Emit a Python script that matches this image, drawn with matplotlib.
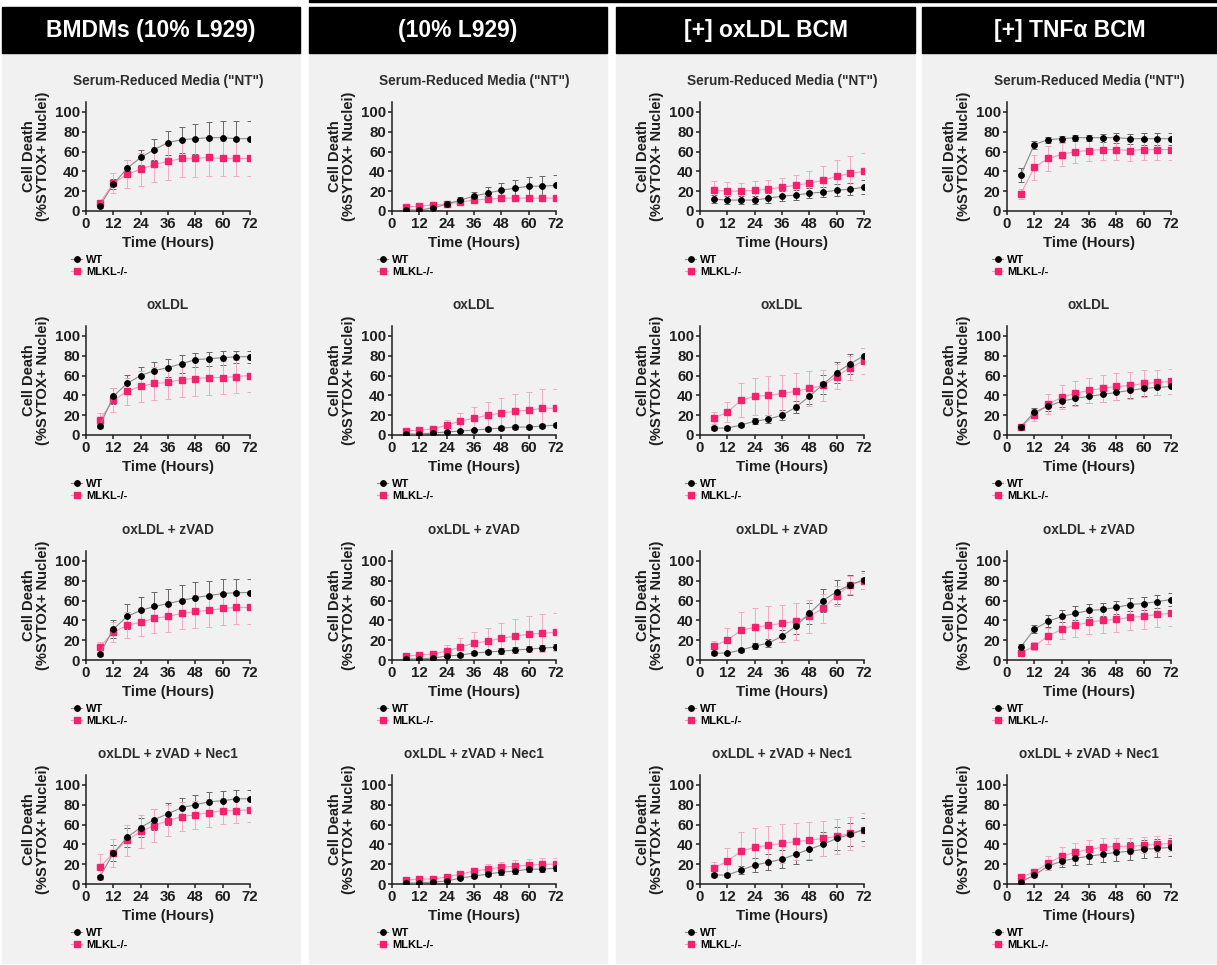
import matplotlib
matplotlib.use("Agg")
import matplotlib.pyplot as plt
from matplotlib.patches import Rectangle

plt.rcParams["font.family"] = ["Liberation Sans", "DejaVu Sans"]
plt.rcParams["font.weight"] = "bold"

# ── data ──────────────────────────────────────────────────────────────────────
hours = [6, 12, 18, 24, 30, 36, 42, 48, 54, 60, 66, 72]
column_titles = ["BMDMs (10% L929)", "(10% L929)", "[+] oxLDL BCM", "[+] TNF\u03b1 BCM"]
treatments = ['Serum-Reduced Media ("NT")', "oxLDL", "oxLDL + zVAD", "oxLDL + zVAD + Nec1"]
genotypes = ["WT", "MLKL-/-"]

# BMDMs (10% L929)
bmdm_wt = [
    [5, 27, 43, 54, 62, 69, 72, 73, 74, 74, 73, 73],
    [9, 39, 52, 60, 65, 68, 72, 76, 77, 78, 79, 79],
    [6, 31, 44, 50, 54, 57, 60, 63, 65, 67, 68, 68],
    [7, 31, 47, 57, 65, 71, 77, 80, 83, 84, 86, 86],
]
bmdm_wt_sd = [
    [2, 5, 8, 8, 11, 12, 13, 15, 16, 17, 18, 18],
    [2, 8, 9, 9, 9, 9, 9, 7, 7, 7, 6, 6],
    [2, 9, 13, 14, 15, 15, 16, 16, 15, 15, 14, 14],
    [2, 8, 10, 10, 11, 11, 10, 10, 10, 10, 9, 9],
]
bmdm_ko = [
    [8, 28, 37, 42, 47, 50, 53, 53, 54, 53, 53, 53],
    [15, 35, 44, 49, 52, 53, 56, 57, 58, 58, 59, 60],
    [13, 28, 35, 38, 42, 44, 47, 49, 50, 52, 53, 53],
    [17, 31, 44, 53, 59, 64, 68, 70, 72, 74, 74, 75],
]
bmdm_ko_sd = [
    [3, 10, 14, 17, 18, 19, 19, 19, 19, 18, 18, 18],
    [7, 12, 14, 16, 17, 17, 18, 18, 18, 17, 17, 17],
    [5, 10, 13, 14, 15, 16, 16, 17, 17, 17, 17, 17],
    [13, 14, 16, 17, 17, 16, 15, 14, 14, 13, 12, 12],
]

# (10% L929)
l929_wt = [
    [1, 1, 3, 7, 11, 15, 18, 21, 23, 25, 25, 26],
    [1, 1, 2, 3, 4, 5, 6, 7, 8, 8, 9, 10],
    [1, 1, 2, 4, 5, 7, 8, 9, 10, 11, 12, 13],
    [1, 1, 2, 3, 6, 8, 10, 12, 13, 15, 15, 16],
]
l929_wt_sd = [
    [1, 1, 1, 2, 3, 4, 6, 7, 8, 9, 10, 10],
    [1, 1, 1, 1, 1, 1, 2, 2, 2, 2, 2, 2],
    [1, 1, 1, 1, 2, 2, 2, 3, 3, 3, 3, 3],
    [1, 1, 1, 1, 1, 2, 2, 3, 3, 3, 3, 3],
]
l929_ko = [
    [4, 5, 6, 7, 9, 11, 12, 13, 13, 13, 13, 13],
    [4, 5, 6, 10, 14, 17, 20, 22, 24, 25, 27, 27],
    [4, 5, 6, 9, 13, 17, 19, 22, 24, 26, 27, 28],
    [4, 5, 5, 7, 10, 13, 15, 17, 18, 19, 20, 20],
]
l929_ko_sd = [
    [1, 1, 1, 1, 1, 1, 1, 1, 1, 2, 2, 2],
    [1, 1, 3, 5, 8, 11, 13, 15, 17, 18, 19, 19],
    [1, 1, 3, 6, 9, 11, 13, 15, 17, 18, 19, 19],
    [1, 1, 1, 1, 2, 3, 5, 5, 6, 6, 6, 6],
]

# [+] oxLDL BCM
oxbcm_wt = [
    [12, 11, 11, 11, 13, 15, 16, 18, 19, 21, 22, 24],
    [7, 7, 10, 14, 16, 20, 28, 39, 51, 63, 72, 80],
    [7, 7, 10, 14, 17, 24, 34, 47, 60, 69, 76, 81],
    [9, 9, 14, 19, 22, 25, 30, 35, 40, 46, 50, 55],
]
oxbcm_wt_sd = [
    [4, 4, 4, 4, 5, 5, 5, 5, 5, 6, 6, 7],
    [2, 2, 2, 3, 4, 5, 6, 8, 10, 11, 10, 8],
    [2, 1, 2, 3, 4, 6, 8, 11, 12, 12, 10, 9],
    [2, 2, 4, 7, 8, 9, 10, 11, 12, 12, 12, 12],
]
oxbcm_ko = [
    [21, 20, 20, 21, 22, 24, 26, 28, 31, 35, 38, 40],
    [17, 23, 35, 39, 40, 42, 44, 47, 50, 59, 68, 75],
    [14, 20, 30, 33, 35, 37, 39, 44, 52, 65, 76, 80],
    [16, 23, 33, 37, 39, 41, 43, 44, 46, 48, 51, 55],
]
oxbcm_ko_sd = [
    [9, 9, 8, 9, 9, 9, 10, 12, 14, 16, 18, 19],
    [6, 10, 17, 19, 20, 19, 19, 18, 16, 13, 12, 13],
    [5, 12, 18, 19, 19, 19, 19, 17, 15, 10, 9, 8],
    [6, 13, 19, 20, 20, 20, 19, 19, 18, 18, 17, 17],
]

# [+] TNFa BCM
tnfbcm_wt = [
    [36, 67, 72, 73, 74, 74, 74, 74, 73, 73, 73, 73],
    [8, 23, 29, 34, 37, 39, 41, 43, 45, 47, 48, 49],
    [13, 31, 39, 44, 47, 50, 51, 53, 56, 57, 59, 61],
    [2, 9, 18, 23, 26, 28, 30, 32, 33, 35, 36, 37],
]
tnfbcm_wt_sd = [
    [7, 4, 3, 3, 3, 3, 4, 5, 5, 6, 6, 6],
    [1, 4, 5, 6, 7, 7, 8, 8, 8, 8, 8, 8],
    [3, 4, 6, 6, 7, 7, 7, 7, 7, 7, 7, 7],
    [2, 2, 4, 6, 7, 8, 8, 9, 9, 9, 9, 9],
]
tnfbcm_ko = [
    [17, 44, 53, 57, 60, 61, 62, 62, 61, 62, 62, 62],
    [8, 20, 31, 38, 42, 45, 47, 49, 50, 52, 53, 54],
    [7, 14, 24, 31, 35, 38, 40, 41, 43, 44, 46, 47],
    [7, 12, 21, 28, 32, 35, 37, 38, 38, 39, 40, 41],
]
tnfbcm_ko_sd = [
    [5, 13, 13, 12, 12, 11, 11, 11, 11, 11, 11, 11],
    [2, 6, 10, 12, 13, 13, 14, 14, 14, 14, 13, 13],
    [2, 4, 8, 10, 12, 12, 13, 13, 13, 13, 13, 13],
    [2, 2, 7, 9, 9, 9, 9, 8, 8, 8, 8, 8],
]

wt_means = [bmdm_wt, l929_wt, oxbcm_wt, tnfbcm_wt]
wt_sds = [bmdm_wt_sd, l929_wt_sd, oxbcm_wt_sd, tnfbcm_wt_sd]
ko_means = [bmdm_ko, l929_ko, oxbcm_ko, tnfbcm_ko]
ko_sds = [bmdm_ko_sd, l929_ko_sd, oxbcm_ko_sd, tnfbcm_ko_sd]

# ── layout (pixel based) ─────────────────────────────────────────────────────
W, H = 1217, 965
PANEL_X = [(2, 300), (309, 607), (616, 915), (922, 1217)]
HEADER_TOP, HEADER_BOT, PANEL_BOT = 7, 53, 963
AX_LEFT = [86, 392, 700, 1007]
AX_ZERO = [211, 435, 660, 884]
AX_W, AX_H = 164, 109

PINK = "#f5206e"
PINK_LIGHT = "#f59bbb"
PINK_ERR = "#f4a9c4"
GREY_LINE = "#8a8a8a"
GREY_ERR = "#666666"
PANEL_BG = "#f1f1f1"
AX_COL = "#1e1e1e"


def px_rect(x0, y0, x1, y1, **kw):
    return Rectangle((x0 / W, 1 - y1 / H), (x1 - x0) / W, (y1 - y0) / H,
                     transform=fig.transFigure, zorder=-10, **kw)


fig = plt.figure(figsize=(W / 100, H / 100), dpi=100, facecolor="white")

# thin rule across the top of columns 2-4
fig.patches.append(px_rect(309, 0, W, 2, color="black"))

for c, (x0, x1) in enumerate(PANEL_X):
    fig.patches.append(px_rect(x0, HEADER_BOT, x1, PANEL_BOT, color=PANEL_BG))
    fig.patches.append(px_rect(x0, HEADER_TOP, x1, HEADER_BOT, color="black"))
    fig.text((x0 + x1) / 2 / W, 1 - (HEADER_TOP + HEADER_BOT) / 2 / H, column_titles[c],
             color="white", fontsize=16.5, fontweight="bold", ha="center", va="center")

    for r in range(4):
        ax = fig.add_axes([AX_LEFT[c] / W, 1 - AX_ZERO[r] / H, AX_W / W, AX_H / H])
        ax.set_facecolor("none")

        ax.errorbar(hours, wt_means[c][r], yerr=wt_sds[c][r], fmt="none",
                    ecolor=GREY_ERR, elinewidth=0.7, capsize=2.2, capthick=0.7, zorder=2)
        ax.errorbar(hours, ko_means[c][r], yerr=ko_sds[c][r], fmt="none",
                    ecolor=PINK_ERR, elinewidth=0.7, capsize=2.2, capthick=0.7, zorder=2)
        ko_line, = ax.plot(hours, ko_means[c][r], color=PINK_LIGHT, lw=0.8,
                           marker="s", ms=4.2, mfc=PINK, mec=PINK, zorder=3)
        wt_line, = ax.plot(hours, wt_means[c][r], color=GREY_LINE, lw=0.8,
                           marker="o", ms=3.9, mfc="black", mec="black", zorder=4)

        ax.set_xlim(0, 72)
        ax.set_ylim(0, 110)
        ax.set_xticks(range(0, 73, 12))
        ax.set_yticks(range(0, 101, 20))
        ax.spines[["top", "right"]].set_visible(False)
        for s in ("left", "bottom"):
            ax.spines[s].set_color(AX_COL)
            ax.spines[s].set_linewidth(1.1)
        ax.tick_params(colors=AX_COL, labelsize=10.8, length=3, width=1.1, pad=1.5)
        for lab in ax.get_xticklabels() + ax.get_yticklabels():
            lab.set_fontweight("bold")

        ax.set_title(treatments[r], fontsize=9.8, fontweight="bold", color="#2e2e2e", pad=12)
        ax.set_xlabel("Time (Hours)", fontsize=10.8, fontweight="bold", color=AX_COL, labelpad=3.5)
        ax.set_ylabel("Cell Death\n(%SYTOX+ Nuclei)", fontsize=10.6, fontweight="bold",
                      color=AX_COL, linespacing=1.05, labelpad=3)

        ax.legend([wt_line, ko_line], genotypes, loc="upper left",
                  bbox_to_anchor=(-0.09, -0.40), frameon=False,
                  handlelength=1.0, handletextpad=0.35, labelspacing=0.25,
                  borderpad=0, borderaxespad=0, prop={"weight": "bold", "size": 8})

fig.savefig("out.png", dpi=100, facecolor="white")
